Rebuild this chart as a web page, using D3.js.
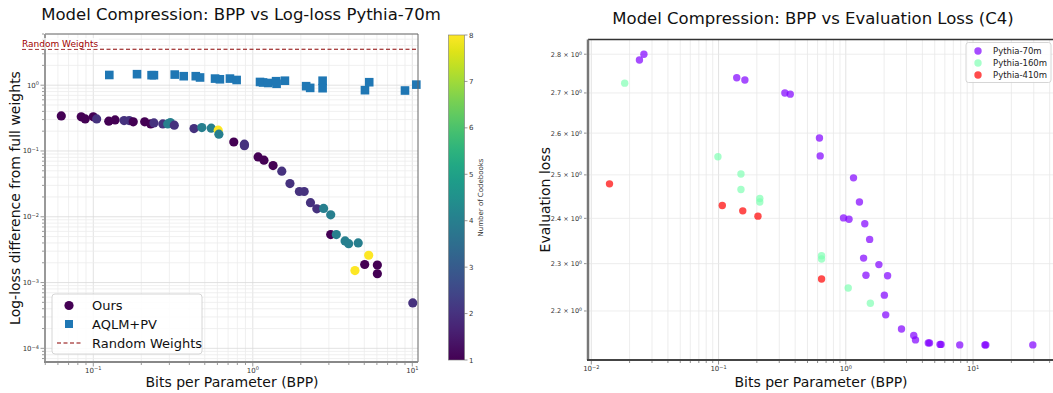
<!DOCTYPE html>
<html lang="en">
<head>
<meta charset="utf-8">
<title>Model Compression: BPP vs loss</title>
<script src="https://cdn.jsdelivr.net/npm/d3@7"></script>
<style>
  body { margin: 0; background: #fff; }
  text { font-family: "DejaVu Sans", sans-serif; }
</style>
</head>
<body>
<div id="chart"></div>
<script>
// ---- left panel data: Pythia-70m log-loss gap ----
var oursBpp   = [0.063, 0.084, 0.089, 0.100, 0.105, 0.125, 0.137, 0.156, 0.168, 0.178, 0.21, 0.229, 0.24, 0.273, 0.293, 0.304, 0.322,
                 0.428, 0.479, 0.549, 0.607, 0.613, 0.76, 0.886, 0.886, 1.08, 1.175, 1.34, 1.52, 1.71, 1.96, 2.10, 2.30, 2.52, 2.78,
                 3.08, 3.08, 3.34, 3.79, 3.99, 4.58, 4.37, 5.33, 5.03, 6.04, 6.04, 10.07];
var oursLoss  = [0.341, 0.33, 0.307, 0.33, 0.307, 0.284, 0.297, 0.29, 0.29, 0.277, 0.277, 0.258, 0.267, 0.258, 0.258, 0.27, 0.247,
                 0.219, 0.227, 0.222, 0.207, 0.18, 0.137, 0.127, 0.12, 0.0813, 0.0724, 0.060, 0.0493, 0.032, 0.0242, 0.0242, 0.0164, 0.0132, 0.0134,
                 0.0107, 0.00537, 0.00537, 0.0043, 0.0039, 0.0040, 0.00152, 0.0026, 0.00188, 0.00185, 0.00136, 0.00049];
var oursBooks = [1, 1, 1, 1, 2, 1, 1, 2, 2, 1, 1, 1, 2, 2, 4, 4, 2,
                 2, 4, 4, 8, 4, 1, 2, 2, 1, 1, 1, 2, 2, 2, 2, 2, 2, 4,
                 4, 1, 4, 4, 4, 4, 8, 8, 1, 1, 1, 2];
var aqlmBpp   = [0.126, 0.188, 0.232, 0.240, 0.324, 0.369, 0.439, 0.467, 0.580, 0.622, 0.719, 0.792, 1.11, 1.16, 1.25,
                 1.40, 1.41, 1.59, 2.16, 2.29, 2.74, 2.74, 5.05, 5.37, 9.0, 10.6];
var aqlmLoss  = [1.43, 1.47, 1.42, 1.42, 1.45, 1.37, 1.37, 1.31, 1.26, 1.23, 1.26, 1.20, 1.12, 1.10, 1.08,
                 1.15, 1.05, 1.17, 0.966, 0.91, 1.17, 0.90, 0.84, 1.11, 0.83, 1.02];
var randomLoss = 3.52;
var leftXTicks = [0.1, 1, 10];
var leftYTicks = [1e-4, 1e-3, 1e-2, 1e-1, 1];
var bookTicks  = [1, 2, 3, 4, 5, 6, 7, 8];

// ---- right panel data: evaluation loss on C4 ----
var p70Bpp   = [0.0239, 0.0259, 0.139, 0.161, 0.332, 0.366, 0.621, 0.629, 1.15, 1.28, 0.96, 1.06, 1.41, 1.54, 1.38, 1.82,
                1.44, 2.13, 2.01, 2.06, 2.74, 3.42, 3.53, 4.45, 4.55, 5.5, 5.61, 7.86, 12.4, 12.6, 29.5];
var p70Loss  = [2.785, 2.80, 2.739, 2.733, 2.70, 2.697, 2.588, 2.545, 2.493, 2.437, 2.401, 2.398, 2.388, 2.353, 2.312, 2.298,
                2.275, 2.274, 2.233, 2.192, 2.163, 2.150, 2.141, 2.135, 2.135, 2.132, 2.132, 2.131, 2.131, 2.131, 2.131];
var p160Bpp  = [0.0183, 0.0989, 0.150, 0.150, 0.211, 0.211, 0.645, 0.645, 1.045, 1.56];
var p160Loss = [2.725, 2.543, 2.502, 2.466, 2.445, 2.437, 2.317, 2.310, 2.248, 2.216];
var p410Bpp  = [0.0139, 0.107, 0.155, 0.204, 0.645];
var p410Loss = [2.479, 2.429, 2.417, 2.405, 2.267];
var seriesNames  = ["Pythia-70m", "Pythia-160m", "Pythia-410m"];
var seriesColors = ["#8000ff", "#80ffb4", "#ff0000"];
var rightXTicks = [0.01, 0.1, 1, 10];
var rightYTicks = [2.2, 2.3, 2.4, 2.5, 2.6, 2.7, 2.8];

var W = 1053, H = 393;
var svg = d3.select("#chart").append("svg").attr("width", W).attr("height", H);

var supMinus = function(k) { return (k < 0 ? "\u2212" : "") + Math.abs(k); };

// writes "10^k" style labels
function powLabel(sel, prefix, k) {
  sel.text(prefix + "10");
  sel.append("tspan").attr("dy", "-0.45em").attr("font-size", "0.72em").text(supMinus(k));
}

function minorTicks(lo, hi) {
  var out = [];
  for (var e = Math.floor(Math.log10(lo)); e <= Math.ceil(Math.log10(hi)); e++) {
    for (var m = 1; m < 10; m++) {
      var v = m * Math.pow(10, e);
      if (v >= lo && v <= hi) out.push(v);
    }
  }
  return out;
}

// =================== LEFT PANEL ===================
var L = {x0: 45, x1: 418, y0: 34, y1: 362};
var xL = d3.scaleLog().domain([0.0498, 10.86]).range([L.x0, L.x1]);
var yL = d3.scaleLog().domain([6.2e-5, 6.0]).range([L.y1, L.y0]);
var viridis = d3.scaleSequential(d3.interpolateViridis).domain([1, 8]);

var gl = svg.append("g");

// grid
var lxAll = minorTicks(0.0498, 10.86), lyAll = minorTicks(6.2e-5, 6.0);
gl.selectAll(".gxl").data(lxAll).enter().append("line")
  .attr("x1", d => xL(d)).attr("x2", d => xL(d)).attr("y1", L.y0).attr("y2", L.y1)
  .attr("stroke", d => leftXTicks.indexOf(d) >= 0 ? "#dadada" : "#ececec").attr("stroke-width", 0.8);
gl.selectAll(".gyl").data(lyAll).enter().append("line")
  .attr("y1", d => yL(d)).attr("y2", d => yL(d)).attr("x1", L.x0).attr("x2", L.x1)
  .attr("stroke", d => leftYTicks.indexOf(d) >= 0 ? "#dadada" : "#ececec").attr("stroke-width", 0.8);

// random weights line
gl.append("line").attr("x1", 22).attr("x2", L.x1).attr("y1", yL(randomLoss)).attr("y2", yL(randomLoss))
  .attr("stroke", "#8b0000").attr("stroke-width", 1).attr("stroke-dasharray", "4,2.5");

// AQLM squares
gl.selectAll(".sq").data(d3.range(aqlmBpp.length)).enter().append("rect")
  .attr("x", i => xL(aqlmBpp[i]) - 4.3).attr("y", i => yL(aqlmLoss[i]) - 4.3)
  .attr("width", 8.6).attr("height", 8.6).attr("fill", "#1f77b4");

// our circles coloured by codebooks
gl.selectAll(".dot").data(d3.range(oursBpp.length)).enter().append("circle")
  .attr("cx", i => xL(oursBpp[i])).attr("cy", i => yL(oursLoss[i])).attr("r", 4.6)
  .attr("fill", i => viridis(oursBooks[i]));

// spines
gl.append("line").attr("x1", L.x0).attr("x2", L.x1).attr("y1", L.y0).attr("y2", L.y0).attr("stroke", "#666").attr("stroke-width", 1);
gl.append("line").attr("x1", L.x1).attr("x2", L.x1).attr("y1", L.y0).attr("y2", L.y1).attr("stroke", "#666").attr("stroke-width", 1);
gl.append("line").attr("x1", L.x0).attr("x2", L.x0).attr("y1", L.y0).attr("y2", L.y1 + 1).attr("stroke", "#999").attr("stroke-width", 2);
gl.append("line").attr("x1", L.x0 - 1).attr("x2", L.x1).attr("y1", L.y1).attr("y2", L.y1).attr("stroke", "#888").attr("stroke-width", 2);

// ticks
gl.selectAll(".txl").data(lxAll).enter().append("line")
  .attr("x1", d => xL(d)).attr("x2", d => xL(d)).attr("y1", L.y1 + 1)
  .attr("y2", d => L.y1 + (leftXTicks.indexOf(d) >= 0 ? 4.5 : 3)).attr("stroke", "#555").attr("stroke-width", 0.6);
gl.selectAll(".tyl").data(lyAll).enter().append("line")
  .attr("y1", d => yL(d)).attr("y2", d => yL(d)).attr("x1", L.x0 - 1)
  .attr("x2", d => L.x0 - (leftYTicks.indexOf(d) >= 0 ? 4.5 : 3)).attr("stroke", "#555").attr("stroke-width", 0.6);
leftXTicks.forEach(function(t) {
  gl.append("text").attr("x", xL(t)).attr("y", L.y1 + 10.5).attr("text-anchor", "middle")
    .attr("font-size", 7).attr("fill", "#333").call(powLabel, "", Math.round(Math.log10(t)));
});
leftYTicks.forEach(function(t) {
  gl.append("text").attr("x", L.x0 - 6).attr("y", yL(t) + 2.5).attr("text-anchor", "end")
    .attr("font-size", 7).attr("fill", "#333").call(powLabel, "", Math.round(Math.log10(t)));
});

// random weights label
gl.append("rect").attr("x", 21).attr("y", 38).attr("width", 78).attr("height", 11).attr("fill", "#fff").attr("opacity", 0.75);
gl.append("text").attr("x", 22).attr("y", 47).attr("font-size", 9).attr("fill", "#a00000").text("Random Weights");

// titles
svg.append("text").attr("x", 241).attr("y", 20).attr("text-anchor", "middle").attr("font-size", 16.5)
  .attr("fill", "#111").text("Model Compression: BPP vs Log-loss Pythia-70m");
svg.append("text").attr("x", 232).attr("y", 387).attr("text-anchor", "middle").attr("font-size", 14)
  .attr("fill", "#111").text("Bits per Parameter (BPP)");
svg.append("text").attr("transform", "translate(20," + ((L.y0 + L.y1) / 2) + ") rotate(-90)")
  .attr("text-anchor", "middle").attr("font-size", 14).attr("fill", "#111").text("Log-loss difference from full weights");

// legend
var lg = gl.append("g");
lg.append("rect").attr("x", 52).attr("y", 294).attr("width", 150).attr("height", 60).attr("rx", 3)
  .attr("fill", "#fff").attr("fill-opacity", 0.85).attr("stroke", "#ccc").attr("stroke-width", 0.8);
lg.append("circle").attr("cx", 69).attr("cy", 305.5).attr("r", 4.6).attr("fill", viridis(1));
lg.append("rect").attr("x", 65).attr("y", 320).attr("width", 8).attr("height", 8).attr("fill", "#1f77b4");
lg.append("line").attr("x1", 57).attr("x2", 82).attr("y1", 343).attr("y2", 343)
  .attr("stroke", "#8b0000").attr("stroke-dasharray", "4,2.5");
[["Ours", 310], ["AQLM+PV", 329], ["Random Weights", 348]].forEach(function(e) {
  lg.append("text").attr("x", 92).attr("y", e[1]).attr("font-size", 13).attr("fill", "#111").text(e[0]);
});

// colorbar
var cb = {x: 448.5, w: 16, y0: 35, y1: 360};
var defs = svg.append("defs");
var grad = defs.append("linearGradient").attr("id", "vir").attr("x1", 0).attr("x2", 0).attr("y1", 1).attr("y2", 0);
d3.range(0, 1.001, 0.05).forEach(function(t) {
  grad.append("stop").attr("offset", t).attr("stop-color", d3.interpolateViridis(t));
});
var yCb = d3.scaleLinear().domain([1, 8]).range([cb.y1, cb.y0]);
svg.append("rect").attr("x", cb.x).attr("y", cb.y0).attr("width", cb.w).attr("height", cb.y1 - cb.y0)
  .attr("fill", "url(#vir)").attr("stroke", "#777").attr("stroke-width", 0.6);
bookTicks.forEach(function(b) {
  svg.append("line").attr("x1", cb.x + cb.w).attr("x2", cb.x + cb.w + 3).attr("y1", yCb(b)).attr("y2", yCb(b))
    .attr("stroke", "#555").attr("stroke-width", 0.6);
  svg.append("text").attr("x", cb.x + cb.w + 4.5).attr("y", yCb(b) + 2.5).attr("font-size", 7).attr("fill", "#333").text(b);
});
svg.append("text").attr("transform", "translate(483," + ((cb.y0 + cb.y1) / 2) + ") rotate(-90)")
  .attr("text-anchor", "middle").attr("font-size", 7).attr("fill", "#333").text("Number of Codebooks");

// =================== RIGHT PANEL ===================
var R = {x0: 588, x1: 1053, y0: 39.5, y1: 360};
var xR = d3.scaleLog().domain([0.00942, 42.5]).range([R.x0, R.x1]);
var yR = d3.scaleLog().domain([2.101, 2.839]).range([R.y1, R.y0]);
var gr = svg.append("g");

var rxAll = minorTicks(0.00942, 42.5);
gr.selectAll(".gxr").data(rxAll).enter().append("line")
  .attr("x1", d => xR(d)).attr("x2", d => xR(d)).attr("y1", R.y0).attr("y2", R.y1)
  .attr("stroke", d => rightXTicks.indexOf(d) >= 0 ? "#dcdcdc" : "#e8e8e8").attr("stroke-width", 0.8);
gr.selectAll(".gyr").data(rightYTicks).enter().append("line")
  .attr("y1", d => yR(d)).attr("y2", d => yR(d)).attr("x1", R.x0).attr("x2", R.x1)
  .attr("stroke", "#e8e8e8").attr("stroke-width", 0.8);

var groups = [[p70Bpp, p70Loss], [p160Bpp, p160Loss], [p410Bpp, p410Loss]];
groups.forEach(function(g, k) {
  gr.selectAll(".s" + k).data(d3.range(g[0].length)).enter().append("circle")
    .attr("cx", i => xR(g[0][i])).attr("cy", i => yR(g[1][i])).attr("r", 3.7)
    .attr("fill", seriesColors[k]).attr("fill-opacity", 0.7);
});

// spines
gr.append("line").attr("x1", R.x0).attr("x2", R.x1).attr("y1", R.y0).attr("y2", R.y0).attr("stroke", "#333").attr("stroke-width", 1.5);
gr.append("line").attr("x1", R.x0).attr("x2", R.x0).attr("y1", R.y0).attr("y2", R.y1).attr("stroke", "#777").attr("stroke-width", 2.5);
gr.append("line").attr("x1", R.x0 - 1).attr("x2", R.x1).attr("y1", R.y1).attr("y2", R.y1).attr("stroke", "#444").attr("stroke-width", 2);

// ticks
gr.selectAll(".txr").data(rxAll).enter().append("line")
  .attr("x1", d => xR(d)).attr("x2", d => xR(d)).attr("y1", R.y1 + 1)
  .attr("y2", d => R.y1 + (rightXTicks.indexOf(d) >= 0 ? 4.5 : 3)).attr("stroke", "#444").attr("stroke-width", 0.6);
rightXTicks.forEach(function(t) {
  gr.append("text").attr("x", xR(t)).attr("y", R.y1 + 11).attr("text-anchor", "middle")
    .attr("font-size", 7).attr("fill", "#333").call(powLabel, "", Math.round(Math.log10(t)));
});
rightYTicks.forEach(function(t) {
  gr.append("line").attr("x1", R.x0 - 1.5).attr("x2", R.x0 - 4).attr("y1", yR(t)).attr("y2", yR(t))
    .attr("stroke", "#444").attr("stroke-width", 0.6);
  gr.append("text").attr("x", R.x0 - 6).attr("y", yR(t) + 2.5).attr("text-anchor", "end")
    .attr("font-size", 6.5).attr("fill", "#333").call(powLabel, t.toFixed(1) + " \u00d7 ", 0);
});

svg.append("text").attr("x", 813).attr("y", 24).attr("text-anchor", "middle").attr("font-size", 16.5)
  .attr("fill", "#111").text("Model Compression: BPP vs Evaluation Loss (C4)");
svg.append("text").attr("x", 821).attr("y", 387).attr("text-anchor", "middle").attr("font-size", 14)
  .attr("fill", "#111").text("Bits per Parameter (BPP)");
svg.append("text").attr("transform", "translate(550," + ((R.y0 + R.y1) / 2) + ") rotate(-90)")
  .attr("text-anchor", "middle").attr("font-size", 14).attr("fill", "#111").text("Evaluation loss");

// legend
var rl = gr.append("g");
rl.append("rect").attr("x", 966).attr("y", 42.5).attr("width", 85).attr("height", 40).attr("rx", 2.5)
  .attr("fill", "#fff").attr("fill-opacity", 0.85).attr("stroke", "#ccc").attr("stroke-width", 0.8);
seriesNames.forEach(function(n, k) {
  rl.append("circle").attr("cx", 978).attr("cy", 51 + k * 12).attr("r", 3.7)
    .attr("fill", seriesColors[k]).attr("fill-opacity", 0.7);
  rl.append("text").attr("x", 993).attr("y", 54 + k * 12).attr("font-size", 8.5).attr("fill", "#222").text(n);
});
</script>
</body>
</html>
